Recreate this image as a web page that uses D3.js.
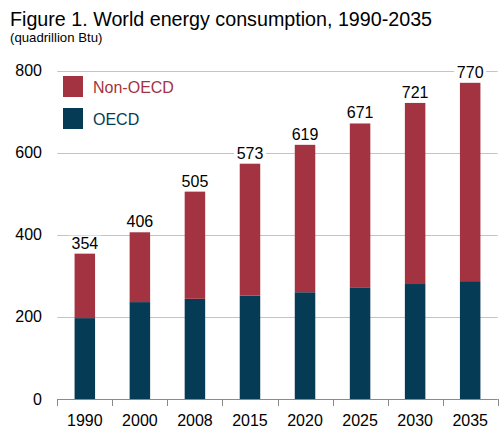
<!DOCTYPE html>
<html><head><meta charset="utf-8">
<script src="https://cdn.jsdelivr.net/npm/d3@7"></script>
<style>body{margin:0;background:#fff}svg{display:block;font-family:"Liberation Sans",Arial,sans-serif}</style>
</head><body><svg id="c" width="504" height="439"></svg>
<script>
const years = ["1990","2000","2008","2015","2020","2025","2030","2035"];
const totals = [354, 406, 505, 573, 619, 671, 721, 770];
const oecd = [197, 236, 244, 252, 260, 272, 280, 287];
const nonOecd = totals.map((t,i)=>t-oecd[i]);
const yTicks = [0,200,400,600,800];
const seriesNames = ["Non-OECD","OECD"];
const colors = {"Non-OECD":"#a33341","OECD":"#063b56"};

const svg = d3.select("#c");
const x = d3.scaleBand().domain(years).range([57.3,497.7]).padding(0);
const y = d3.scaleLinear().domain([0,800]).range([399,70.5]);
const bw = 20.5;

svg.append("text").attr("x",10).attr("y",26).attr("font-size",19.7).attr("fill","#000")
  .text("Figure 1. World energy consumption, 1990-2035");
svg.append("text").attr("x",10).attr("y",42).attr("font-size",13.2).attr("fill","#000")
  .text("(quadrillion Btu)");

// gridlines
svg.append("g").selectAll("line").data(yTicks.filter(d=>d>0)).join("line")
  .attr("x1",57.3).attr("x2",497.7).attr("y1",d=>Math.round(y(d))+0.5).attr("y2",d=>Math.round(y(d))+0.5)
  .attr("stroke","#c4c4c4").attr("stroke-width",1);

// y labels
svg.append("g").selectAll("text").data(yTicks).join("text")
  .attr("x",42).attr("y",d=>y(d)+5.5).attr("text-anchor","end").attr("font-size",16).attr("fill","#000")
  .text(d=>d);

// stacked bars
const rows = years.map((yr,i)=>({year:yr,"OECD":oecd[i],"Non-OECD":nonOecd[i]}));
const stack = d3.stack().keys(["OECD","Non-OECD"])(rows);
svg.append("g").selectAll("g").data(stack).join("g").attr("fill",d=>colors[d.key])
  .selectAll("rect").data(d=>d).join("rect")
  .attr("x",d=>x(d.data.year)+x.bandwidth()/2-bw/2).attr("width",bw)
  .attr("y",d=>y(d[1])).attr("height",d=>y(d[0])-y(d[1]));

// x axis
const gx = svg.append("g").attr("transform","translate(0,399)");
gx.append("line").attr("x1",57.3).attr("x2",497.7).attr("y1",0.5).attr("y2",0.5).attr("stroke","#8a8a8a");
const bounds = x.domain().map(d=>x(d)).concat([x.range()[1]]);
gx.selectAll("line.t").data(bounds).join("line").attr("class","t")
  .attr("x1",d=>Math.round(d)+0.5).attr("x2",d=>Math.round(d)+0.5).attr("y1",0).attr("y2",7).attr("stroke","#8a8a8a");
gx.selectAll("text").data(years).join("text")
  .attr("x",d=>x(d)+x.bandwidth()/2).attr("y",27).attr("text-anchor","middle").attr("font-size",16).attr("fill","#000")
  .text(d=>d);

// value labels with white background
const lab = svg.append("g").selectAll("g").data(years).join("g")
  .attr("transform",(d,i)=>`translate(${x(d)+x.bandwidth()/2},${y(totals[i])-5})`);
lab.append("rect").attr("x",-16).attr("y",-13).attr("width",32).attr("height",15).attr("fill","#fff");
lab.append("text").attr("text-anchor","middle").attr("font-size",16).attr("fill","#000").text((d,i)=>totals[i]);

// legend
const leg = svg.append("g").selectAll("g").data(seriesNames).join("g")
  .attr("transform",(d,i)=>`translate(63,${76+i*32})`);
leg.append("rect").attr("width",20).attr("height",21).attr("fill",d=>colors[d]);
leg.append("text").attr("x",30).attr("y",16.5).attr("font-size",16).attr("fill",d=>colors[d]).text(d=>d);
</script></body></html>
